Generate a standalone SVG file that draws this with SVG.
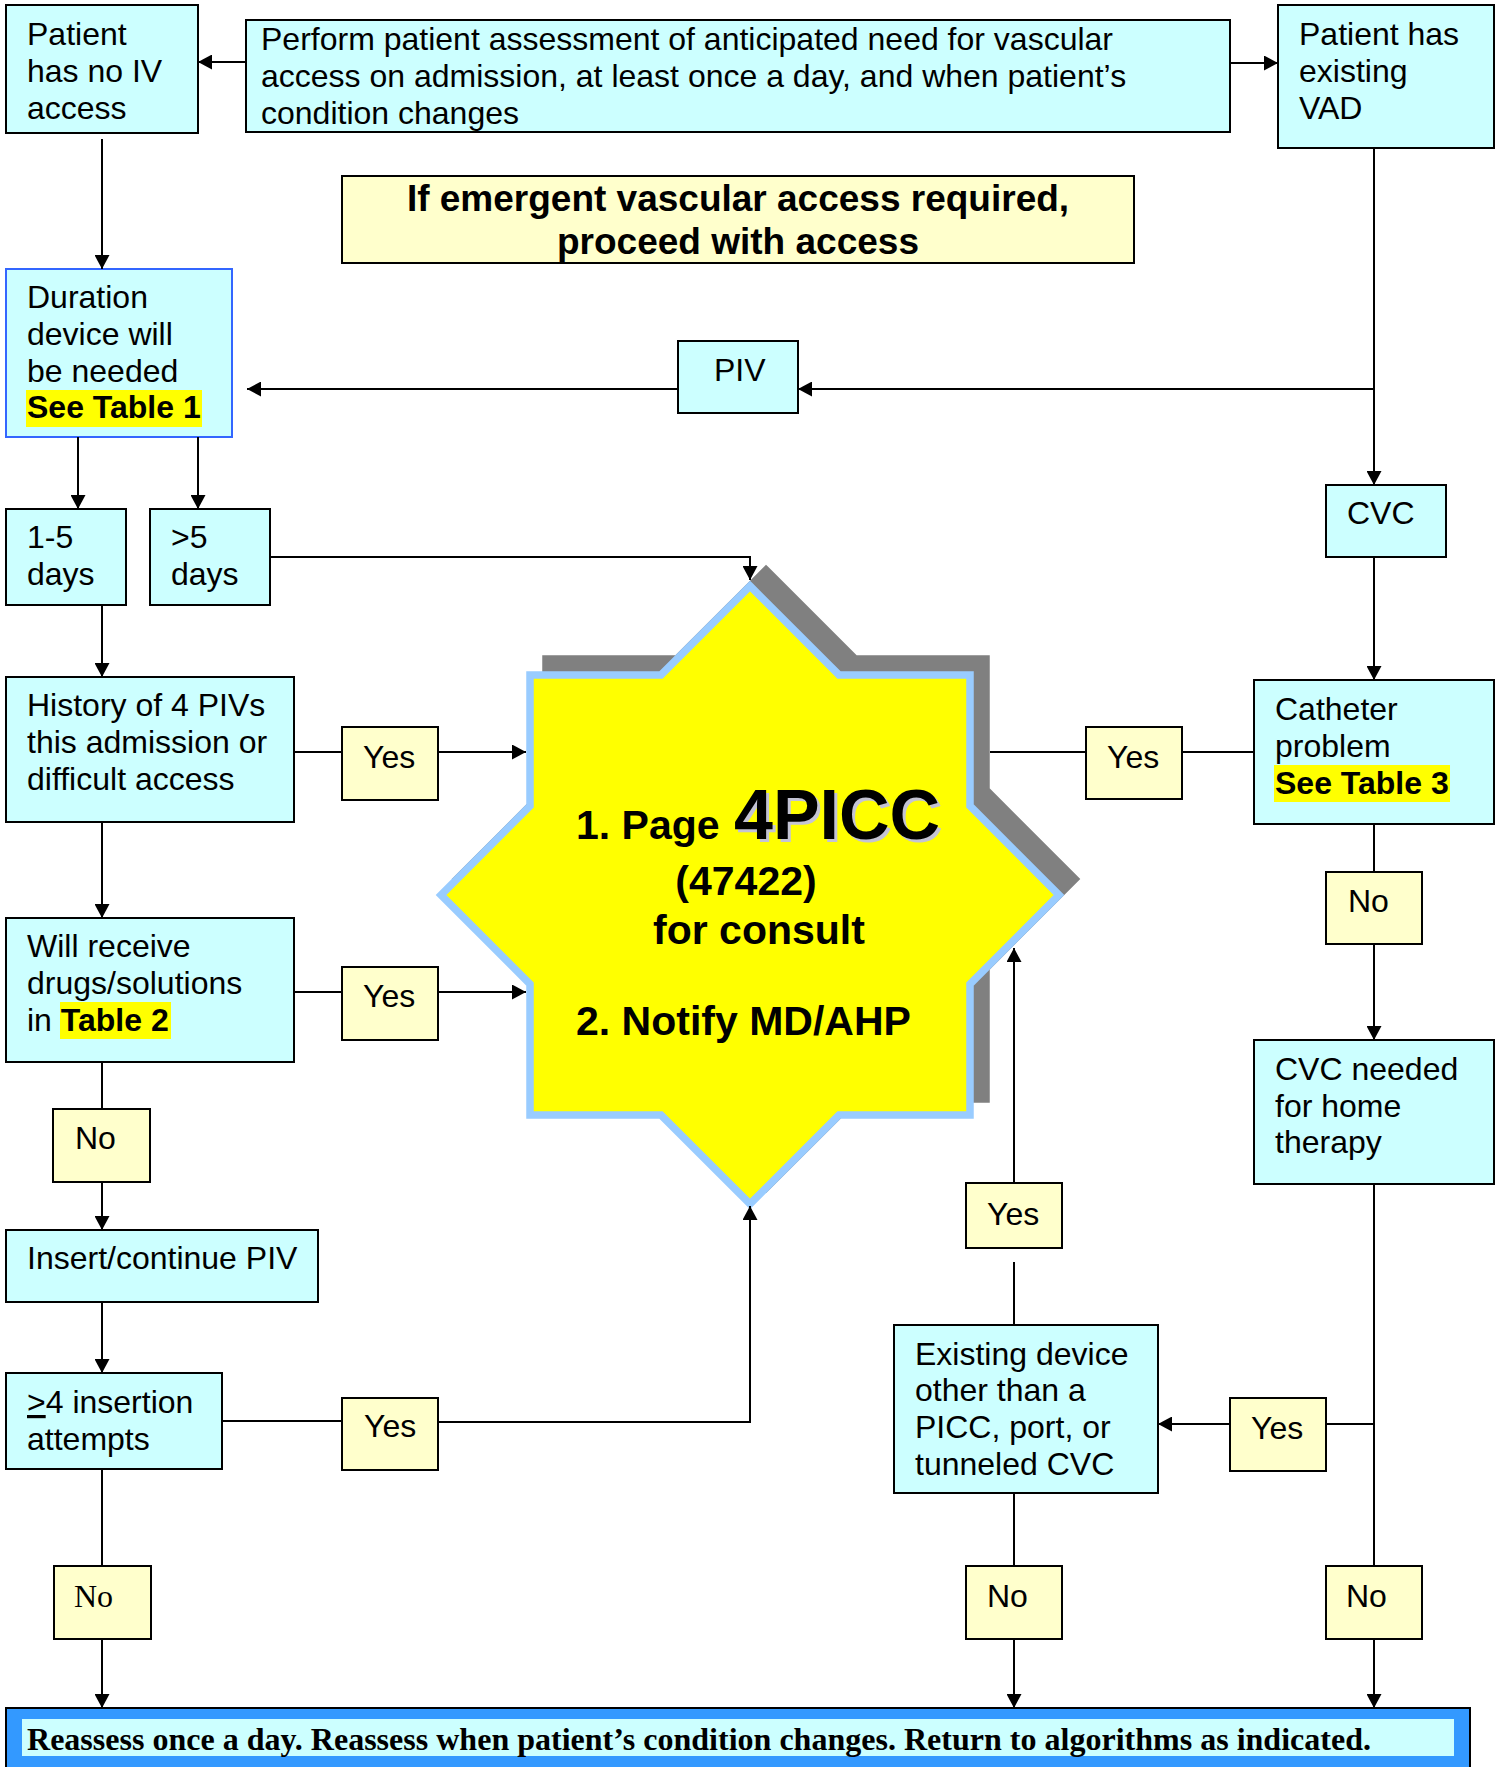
<svg xmlns="http://www.w3.org/2000/svg" width="1501" height="1767" viewBox="0 0 1501 1767">
<style>
.box{fill:#CCFFFF;stroke:#000;stroke-width:2}
.lbl{fill:#FFFFCC;stroke:#000;stroke-width:2}
.t{font-family:"Liberation Sans",Arial,sans-serif;font-size:32px;fill:#000}
.b{font-weight:bold}
.hl{fill:#FFFF00}
.c{stroke:#000;stroke-width:2;fill:none}
.st{font-family:"Liberation Sans",Arial,sans-serif;font-weight:bold;font-size:41px;fill:#000}
.big{font-size:70px}
.em{font-size:37px}
.shd{fill:#C4C4D4}
</style>
<defs>
<marker id="arr" viewBox="0 0 14 15" refX="14" refY="7.5" markerWidth="14" markerHeight="15" markerUnits="userSpaceOnUse" orient="auto">
<path d="M0,0 L14,7.5 L0,15 z" fill="#000"/>
</marker>
<polygon id="starShape" points="750,586 839,675 970,675 970,806 1059,895 970,984 970,1115 839,1115 750,1204 661,1115 530,1115 530,984 441,895 530,806 530,675 661,675"/>
</defs>
<rect width="1501" height="1767" fill="#fff"/>

<g id="n-noiv"><rect class="box" x="6" y="5" width="192" height="128"/>
<text class="t" x="27" y="45">Patient</text><text class="t" x="27" y="82">has no IV</text><text class="t" x="27" y="119">access</text></g>

<g id="n-perform"><rect class="box" x="246" y="20" width="984" height="112"/>
<text class="t" x="261" y="50">Perform patient assessment of anticipated need for vascular</text>
<text class="t" x="261" y="87">access on admission, at least once a day, and when patient’s</text>
<text class="t" x="261" y="124">condition changes</text></g>

<g id="n-vad"><rect class="box" x="1278" y="5" width="216" height="143"/>
<text class="t" x="1299" y="45">Patient has</text><text class="t" x="1299" y="82">existing</text><text class="t" x="1299" y="119">VAD</text></g>

<g id="n-emergent"><rect class="lbl" x="342" y="176" width="792" height="87"/>
<text class="t b em" x="738" y="211" text-anchor="middle">If emergent vascular access required,</text>
<text class="t b em" x="738" y="254" text-anchor="middle">proceed with access</text></g>

<g id="n-duration"><rect x="6" y="269" width="226" height="168" fill="#CCFFFF" stroke="#3366FF" stroke-width="2"/>
<rect class="hl" x="26" y="390" width="176" height="37"/>
<text class="t" x="27" y="308">Duration</text><text class="t" x="27" y="345">device will</text><text class="t" x="27" y="382">be needed</text>
<text class="t b" x="27" y="418">See Table 1</text></g>

<g id="n-piv"><rect class="box" x="678" y="341" width="120" height="72"/>
<text class="t" x="714" y="381">PIV</text></g>

<g id="n-cvc"><rect class="box" x="1326" y="485" width="120" height="72"/>
<text class="t" x="1347" y="524">CVC</text></g>

<g id="n-15"><rect class="box" x="6" y="509" width="120" height="96"/>
<text class="t" x="27" y="548">1-5</text><text class="t" x="27" y="585">days</text></g>

<g id="n-gt5"><rect class="box" x="150" y="509" width="120" height="96"/>
<text class="t" x="171" y="548">&gt;5</text><text class="t" x="171" y="585">days</text></g>

<g id="n-history"><rect class="box" x="6" y="677" width="288" height="145"/>
<text class="t" x="27" y="716">History of 4 PIVs</text><text class="t" x="27" y="753">this admission or</text><text class="t" x="27" y="790">difficult access</text></g>

<g id="n-yes1"><rect class="lbl" x="342" y="727" width="96" height="73"/><text class="t" x="363" y="768">Yes</text></g>

<g id="n-star">
<use href="#starShape" transform="translate(16,-16)" fill="#808080" stroke="#808080" stroke-width="7.5"/>
<use href="#starShape" fill="#FFFF00" stroke="#99CCFF" stroke-width="7.5"/>
<text class="st" x="576" y="839">1. Page</text>
<text class="st big shd" x="737" y="842">4PICC</text>
<text class="st big" x="734" y="839">4PICC</text>
<text class="st" x="746" y="895" text-anchor="middle">(47422)</text>
<text class="st" x="759" y="944" text-anchor="middle">for consult</text>
<text class="st" x="576" y="1035">2. Notify MD/AHP</text>
</g>

<g id="n-yes2"><rect class="lbl" x="1086" y="727" width="96" height="72"/><text class="t" x="1107" y="768">Yes</text></g>

<g id="n-catheter"><rect class="box" x="1254" y="680" width="240" height="144"/>
<rect class="hl" x="1274" y="765" width="176" height="37"/>
<text class="t" x="1275" y="720">Catheter</text><text class="t" x="1275" y="757">problem</text>
<text class="t b" x="1275" y="794">See Table 3</text></g>

<g id="n-no1"><rect class="lbl" x="1326" y="872" width="96" height="72"/><text class="t" x="1348" y="912">No</text></g>

<g id="n-will"><rect class="box" x="6" y="918" width="288" height="144"/>
<rect class="hl" x="60" y="1002" width="111" height="37"/>
<text class="t" x="27" y="957">Will receive</text><text class="t" x="27" y="994">drugs/solutions</text>
<text class="t" x="27" y="1031">in <tspan class="b">Table 2</tspan></text></g>

<g id="n-yes3"><rect class="lbl" x="342" y="967" width="96" height="73"/><text class="t" x="363" y="1007">Yes</text></g>

<g id="n-no2"><rect class="lbl" x="53" y="1109" width="97" height="73"/><text class="t" x="75" y="1149">No</text></g>

<g id="n-home"><rect class="box" x="1254" y="1040" width="240" height="144"/>
<text class="t" x="1275" y="1080">CVC needed</text><text class="t" x="1275" y="1117">for home</text><text class="t" x="1275" y="1153">therapy</text></g>

<g id="n-insert"><rect class="box" x="6" y="1230" width="312" height="72"/>
<text class="t" x="27" y="1269">Insert/continue PIV</text></g>

<g id="n-yes4"><rect class="lbl" x="966" y="1183" width="96" height="65"/><text class="t" x="987" y="1225">Yes</text></g>

<g id="n-existing"><rect class="box" x="894" y="1325" width="264" height="168"/>
<text class="t" x="915" y="1365">Existing device</text><text class="t" x="915" y="1401">other than a</text>
<text class="t" x="915" y="1438">PICC, port, or</text><text class="t" x="915" y="1475">tunneled CVC</text></g>

<g id="n-yes5"><rect class="lbl" x="1230" y="1398" width="96" height="73"/><text class="t" x="1251" y="1439">Yes</text></g>

<g id="n-attempts"><rect class="box" x="6" y="1373" width="216" height="96"/>
<text class="t" x="27" y="1413"><tspan text-decoration="underline">&gt;</tspan>4 insertion</text>
<text class="t" x="27" y="1450">attempts</text></g>

<g id="n-yes6"><rect class="lbl" x="342" y="1398" width="96" height="72"/><text class="t" x="364" y="1437">Yes</text></g>

<g id="n-no3"><rect class="lbl" x="54" y="1566" width="97" height="73"/>
<text x="74" y="1607" font-family="'Liberation Serif','Times New Roman',serif" font-size="32">No</text></g>
<g id="n-no4"><rect class="lbl" x="966" y="1566" width="96" height="73"/><text class="t" x="987" y="1607">No</text></g>
<g id="n-no5"><rect class="lbl" x="1326" y="1566" width="96" height="73"/><text class="t" x="1346" y="1607">No</text></g>

<g id="n-reassess"><rect x="6" y="1708" width="1464" height="60" fill="#3399FF" stroke="#000" stroke-width="2"/>
<rect x="22" y="1719" width="1432" height="37" fill="#CCFFFF"/>
<text x="27" y="1750" font-family="'Liberation Serif','Times New Roman',serif" font-weight="bold" font-size="31" textLength="1344" lengthAdjust="spacingAndGlyphs">Reassess once a day. Reassess when patient’s condition changes. Return to algorithms as indicated.</text></g>

<g id="connectors">
<line class="c" x1="246" y1="62" x2="198" y2="62" marker-end="url(#arr)"/>
<line class="c" x1="1230" y1="63" x2="1278" y2="63" marker-end="url(#arr)"/>
<line class="c" x1="102" y1="139" x2="102" y2="269" marker-end="url(#arr)"/>
<line class="c" x1="1374" y1="148" x2="1374" y2="485" marker-end="url(#arr)"/>
<line class="c" x1="1374" y1="389" x2="798" y2="389" marker-end="url(#arr)"/>
<line class="c" x1="678" y1="389" x2="247" y2="389" marker-end="url(#arr)"/>
<line class="c" x1="78" y1="437" x2="78" y2="509" marker-end="url(#arr)"/>
<line class="c" x1="198" y1="437" x2="198" y2="509" marker-end="url(#arr)"/>
<polyline class="c" points="270,557 750,557 750,580" marker-end="url(#arr)"/>
<line class="c" x1="102" y1="605" x2="102" y2="677" marker-end="url(#arr)"/>
<line class="c" x1="294" y1="752" x2="342" y2="752"/>
<line class="c" x1="438" y1="752" x2="526" y2="752" marker-end="url(#arr)"/>
<line class="c" x1="102" y1="822" x2="102" y2="918" marker-end="url(#arr)"/>
<line class="c" x1="294" y1="992" x2="342" y2="992"/>
<line class="c" x1="438" y1="992" x2="526" y2="992" marker-end="url(#arr)"/>
<line class="c" x1="102" y1="1062" x2="102" y2="1109"/>
<line class="c" x1="102" y1="1182" x2="102" y2="1230" marker-end="url(#arr)"/>
<line class="c" x1="102" y1="1302" x2="102" y2="1373" marker-end="url(#arr)"/>
<line class="c" x1="222" y1="1421" x2="342" y2="1421"/>
<polyline class="c" points="438,1422 750,1422 750,1206" marker-end="url(#arr)"/>
<line class="c" x1="102" y1="1469" x2="102" y2="1566"/>
<line class="c" x1="102" y1="1639" x2="102" y2="1708" marker-end="url(#arr)"/>
<line class="c" x1="1374" y1="557" x2="1374" y2="680" marker-end="url(#arr)"/>
<line class="c" x1="990" y1="752" x2="1086" y2="752"/>
<line class="c" x1="1182" y1="752" x2="1254" y2="752"/>
<line class="c" x1="1374" y1="824" x2="1374" y2="872"/>
<line class="c" x1="1374" y1="944" x2="1374" y2="1040" marker-end="url(#arr)"/>
<line class="c" x1="1374" y1="1184" x2="1374" y2="1566"/>
<line class="c" x1="1374" y1="1424" x2="1326" y2="1424"/>
<line class="c" x1="1230" y1="1424" x2="1158" y2="1424" marker-end="url(#arr)"/>
<line class="c" x1="1374" y1="1639" x2="1374" y2="1708" marker-end="url(#arr)"/>
<line class="c" x1="1014" y1="1325" x2="1014" y2="1262"/>
<line class="c" x1="1014" y1="1183" x2="1014" y2="948" marker-end="url(#arr)"/>
<line class="c" x1="1014" y1="1493" x2="1014" y2="1566"/>
<line class="c" x1="1014" y1="1639" x2="1014" y2="1708" marker-end="url(#arr)"/>
</g>
</svg>
